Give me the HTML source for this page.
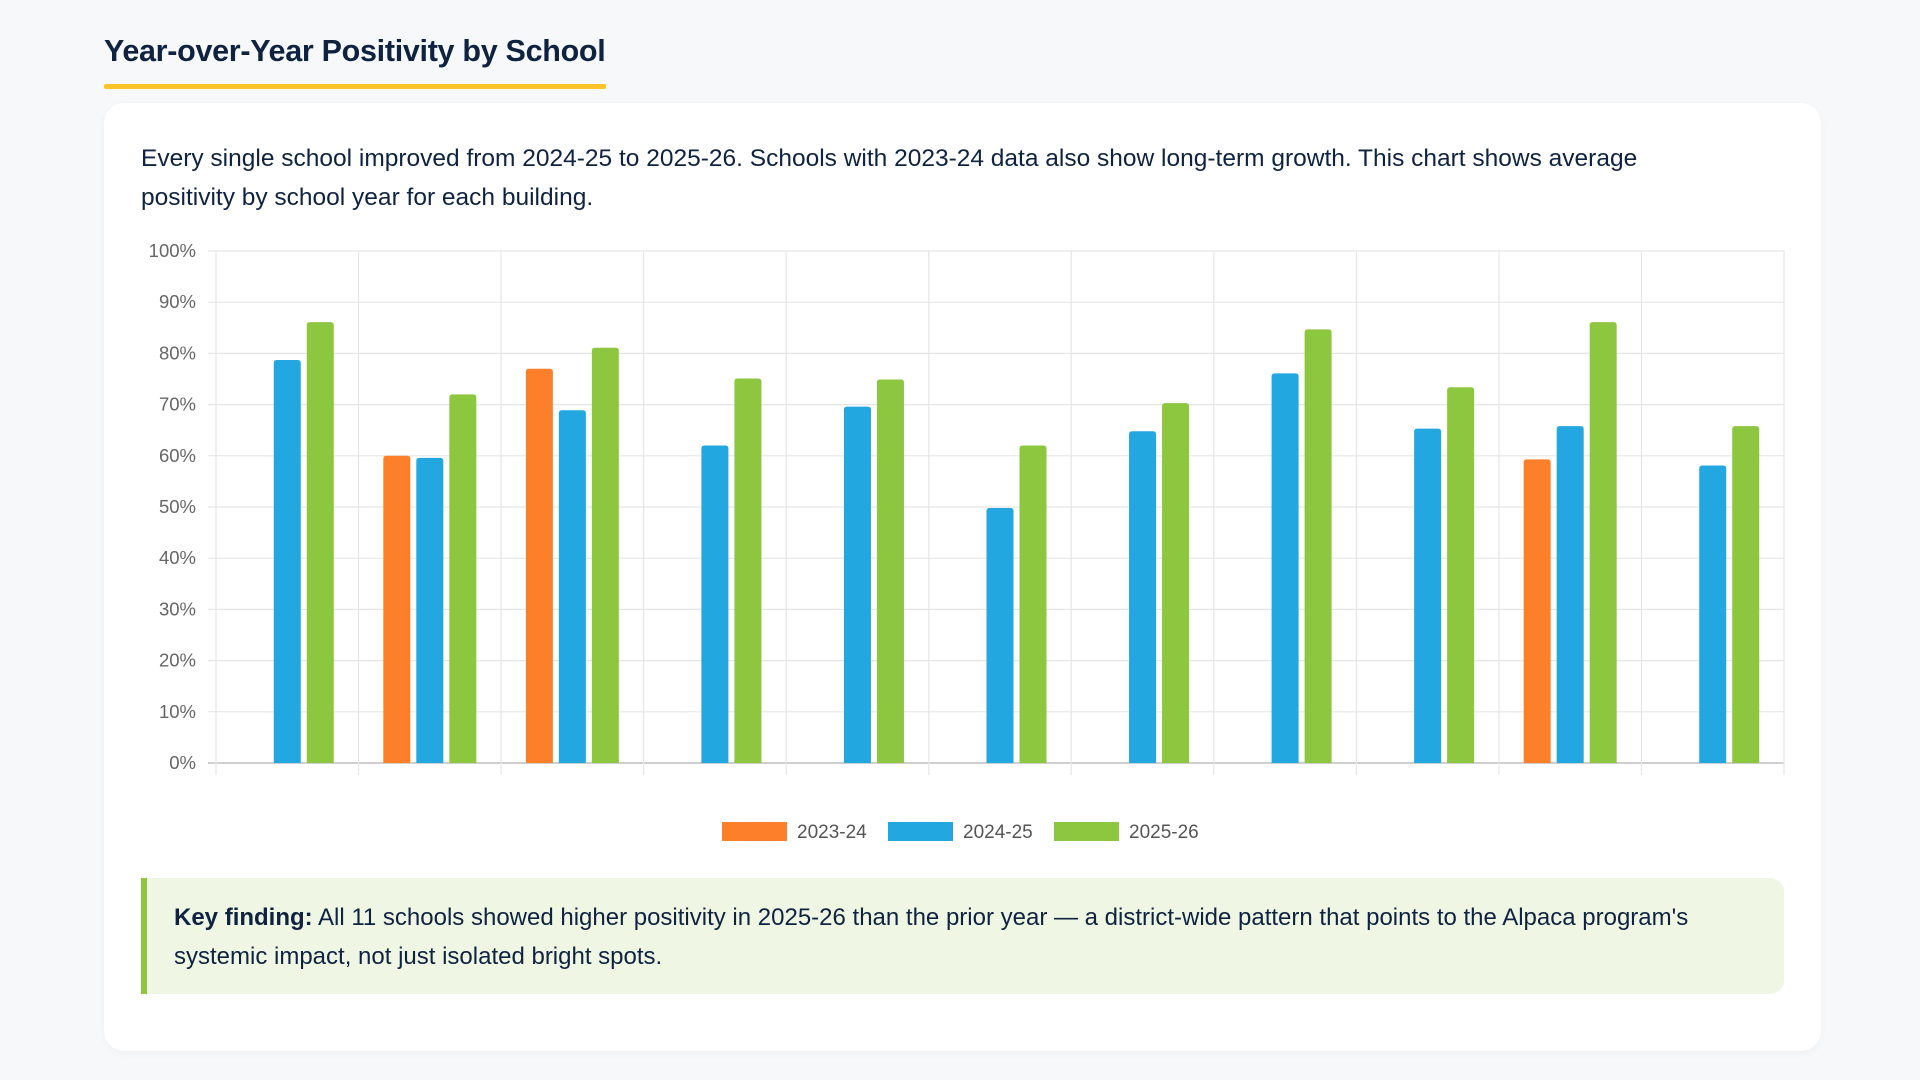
<!DOCTYPE html>
<html><head><meta charset="utf-8">
<style>
body{margin:0;width:1920px;height:1080px;background:#f7f8fa;font-family:"Liberation Sans",sans-serif;color:#0f2340;position:relative;overflow:hidden}
#title{position:absolute;left:104px;top:34px;font-size:30.5px;font-weight:bold;margin:0;letter-spacing:-0.3px}
#uline{position:absolute;left:104px;top:84px;width:502px;height:5px;background:#fbc32a;border-radius:2px}
#card{position:absolute;left:104px;top:103px;width:1717px;height:948px;background:#fff;border-radius:20px;box-shadow:0 2px 8px rgba(0,0,0,0.04)}
#desc{position:absolute;left:141px;top:139px;width:1560px;font-size:24.5px;line-height:39px;margin:0}
#chart{position:absolute;left:0;top:0}
#finding{position:absolute;left:141px;top:878px;width:1643px;height:116px;background:#eff6e4;border-left:6px solid #8dc63f;border-radius:0 14px 14px 0;box-sizing:border-box;padding:20px 40px 0 27px;font-size:24px;line-height:39px}
</style></head><body>
<h2 id="title">Year-over-Year Positivity by School</h2>
<div id="uline"></div>
<div id="card"></div>
<p id="desc">Every single school improved from 2024-25 to 2025-26. Schools with 2023-24 data also show long-term growth. This chart shows average positivity by school year for each building.</p>
<svg id="chart" width="1920" height="1080"></svg>
<div id="finding"><b>Key finding:</b> All 11 schools showed higher positivity in 2025-26 than the prior year — a district-wide pattern that points to the Alpaca program's systemic impact, not just isolated bright spots.</div>
<script>
const categories=["School 1","School 2","School 3","School 4","School 5","School 6","School 7","School 8","School 9","School 10","School 11"];
const seriesNames=["2023-24","2024-25","2025-26"];
const values2324=[null,60,77,null,null,null,null,null,null,59.3,null];
const values2425=[78.7,59.6,68.9,62,69.6,49.8,64.8,76.1,65.3,65.8,58.1];
const values2526=[86.1,72,81.1,75.1,74.9,62,70.3,84.7,73.4,86.1,65.8];
const yTicks=[0,10,20,30,40,50,60,70,80,90,100];
const colors=["#fe7f2a","#22a7e0","#8dc63f"];
const NS="http://www.w3.org/2000/svg";
const svg=document.getElementById('chart');
const L=216,R=1784,T=251,B=763;
const bw=(R-L)/categories.length;
function y(v){return B-(v/100)*(B-T);}
function x(i){return L+bw*(i+0.5);}
function mk(t,a){const e=document.createElementNS(NS,t);for(const k in a)e.setAttribute(k,a[k]);svg.appendChild(e);return e;}
yTicks.forEach(v=>{
  const g=mk('line',{x1:L-8,x2:R,y1:y(v),y2:y(v),stroke:v===0?'#cfcfcf':'#e6e6e6','stroke-width':v===0?2:1.2});
  
  
  const t=mk('text',{x:196,y:y(v)+6,'text-anchor':'end','font-size':18.5,fill:'#666','font-family':'Liberation Sans, sans-serif'});
  t.textContent=v+'%';
  
  
});
for(let i=0;i<=categories.length;i++){
  const gx=L+bw*i;
  const l=mk('line',{x1:gx,x2:gx,y1:T,y2:B+12,stroke:'#e6e6e6','stroke-width':1.2});
  
  
}
const all=[values2324,values2425,values2526];
const step=33,w=27;
all.forEach((arr,s)=>{
  arr.forEach((v,i)=>{
    if(v===null)return;
    const cx=x(i)+(s-1)*step;
    const top=y(v),r=3;
    const p=mk('path',{d:`M${cx-w/2},${B} V${top+r} Q${cx-w/2},${top} ${cx-w/2+r},${top} H${cx+w/2-r} Q${cx+w/2},${top} ${cx+w/2},${top+r} V${B} Z`,fill:colors[s]});
    
    
  });
});
const legX=[722,888,1054];
seriesNames.forEach((n,s)=>{
  const r=mk('rect',{x:legX[s],y:822,width:65,height:19,fill:colors[s]});
  
  
  const t=mk('text',{x:legX[s]+75,y:838,'font-size':19,fill:'#555','font-family':'Liberation Sans, sans-serif'});
  t.textContent=n;
  
  
});
</script>
</body></html>
